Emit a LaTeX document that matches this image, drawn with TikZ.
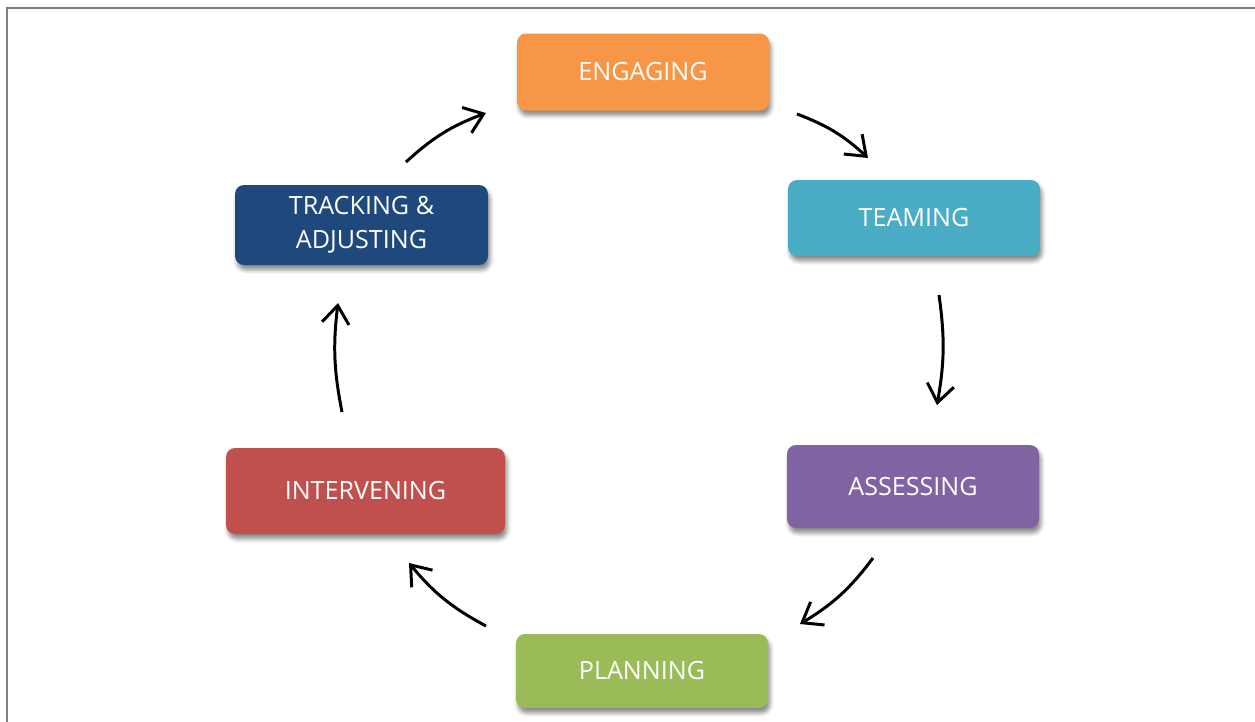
\documentclass[tikz,border=0pt]{standalone}
\usepackage{fontspec}
\setmainfont{Open Sans}
\usepackage{xcolor}
\usepackage{tikz}
\usetikzlibrary{arrows.meta,shadows.blur}

\definecolor{engageorange}{HTML}{F79646}
\definecolor{teamblue}{HTML}{4BACC6}
\definecolor{assesspurple}{HTML}{8064A2}
\definecolor{plangreen}{HTML}{9BBB59}
\definecolor{intervred}{HTML}{C0504D}
\definecolor{trackblue}{HTML}{1F497D}

\begin{document}
\begin{tikzpicture}[
        stagebox/.style={rounded corners=0.18cm, text=white, align=center,
              font=\fontsize{14.3}{19.5}\selectfont, minimum width=5.04cm,
              blur shadow={shadow xshift=0.04cm, shadow yshift=-0.1cm,
                           shadow blur radius=0.08cm, shadow opacity=45}},
        cyclearrow/.style={-{Straight Barb[length=3.6mm, width=5.4mm]},
              line width=1.7pt, bend left=11},
    ]
        \useasboundingbox (0,0) rectangle (25.1,-14.42);

        % Frame
        \draw[gray, line width=1.2pt] (0.14,-14.6) |- (25.3,-0.16);

        % Stages
        \node[stagebox, fill=engageorange, minimum height=1.54cm] (engaging) at (12.86,-1.44) {ENGAGING};
        \node[stagebox, fill=teamblue, minimum height=1.52cm] (teaming) at (18.28,-4.36) {TEAMING};
        \node[stagebox, fill=assesspurple, minimum height=1.66cm] (assessing) at (18.26,-9.73) {ASSESSING};
        \node[stagebox, fill=plangreen, minimum height=1.48cm] (planning) at (12.84,-13.42) {PLANNING};
        \node[stagebox, fill=intervred, minimum height=1.72cm, minimum width=5.58cm] (intervening) at (7.31,-9.82) {INTERVENING};
        \node[stagebox, fill=trackblue, minimum height=1.6cm, minimum width=5.06cm] (tracking) at (7.23,-4.5) {TRACKING \&\\ADJUSTING};

        % Arrow ends
        \coordinate (engOut) at (15.94,-2.28);
        \coordinate (teamIn) at (17.36,-3.16);
        \coordinate (teamOut) at (18.78,-5.90);
        \coordinate (assessIn) at (18.74,-8.10);
        \coordinate (assessOut) at (17.46,-11.16);
        \coordinate (planIn) at (16.00,-12.48);
        \coordinate (planOut) at (9.72,-12.52);
        \coordinate (intervIn) at (8.18,-11.26);
        \coordinate (intervOut) at (6.84,-8.24);
        \coordinate (trackIn) at (6.76,-6.06);
        \coordinate (trackOut) at (8.12,-3.24);
        \coordinate (engIn) at (9.72,-2.26);

        % Arrows
        \draw[cyclearrow] (engOut) to (teamIn);
        \draw[cyclearrow, bend left=9] (teamOut) to (assessIn);
        \draw[cyclearrow] (assessOut) to (planIn);
        \draw[cyclearrow] (planOut) to (intervIn);
        \draw[cyclearrow, bend left=9] (intervOut) to (trackIn);
        \draw[cyclearrow] (trackOut) to (engIn);
    \end{tikzpicture}
\end{document}
